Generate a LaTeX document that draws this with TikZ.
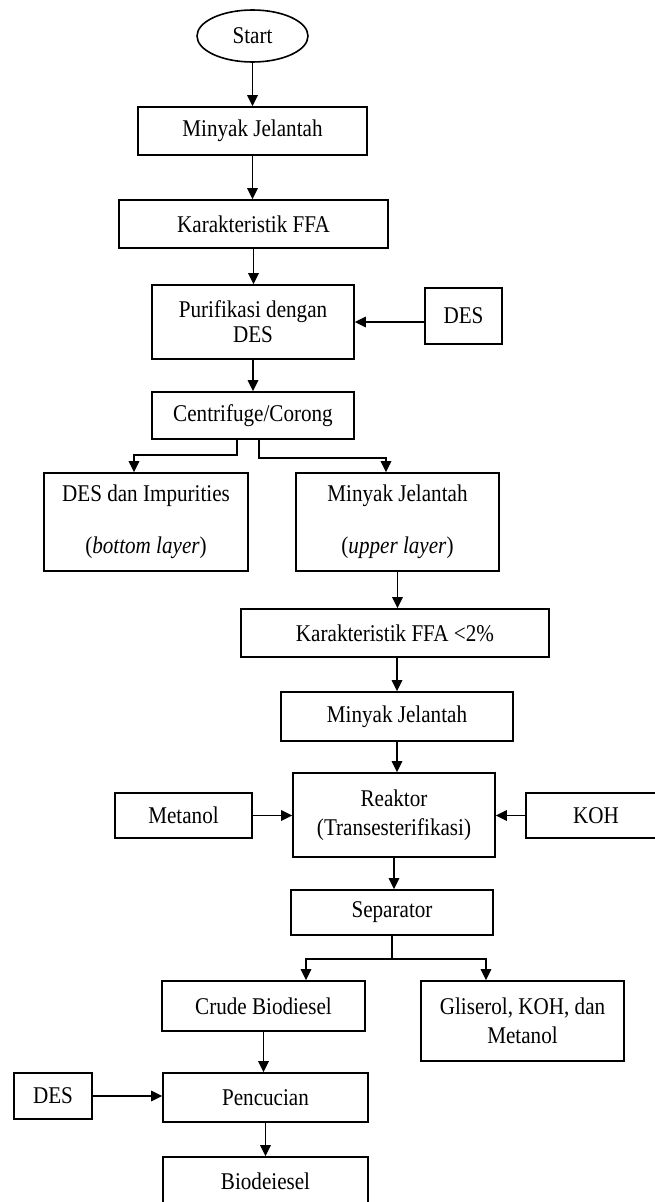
\documentclass[tikz,border=0pt]{standalone}
\usepackage{fontspec}
\setmainfont{Liberation Serif}[FakeStretch=0.88]
\usetikzlibrary{arrows.meta,shapes.geometric}

\begin{document}
\begin{tikzpicture}[x=1pt,y=-1pt,
  box/.style={draw,line width=1.6pt,inner sep=0pt,align=center,font=\fontsize{24}{28}\selectfont},
  arr/.style={line width=1.6pt,-{Triangle[length=11pt,width=10.5pt]}},
  lin/.style={line width=1.6pt}]
  \useasboundingbox (0,0) rectangle (654,1202);
  \node[box,ellipse,minimum width=111,minimum height=52] (start) at (252.5,36) {Start};
  \node[box,minimum width=229,minimum height=48] (mj1) at (252.5,131) {Minyak Jelantah};
  \node[box,minimum width=269,minimum height=48] (ffa) at (253.5,224) {Karakteristik FFA};
  \node[box,minimum width=202,minimum height=74] (puri) at (253,322) {Purifikasi dengan\\[-3pt]DES};
  \node[box,minimum width=77,minimum height=56] (des1) at (463.5,316) {DES};
  \node[box,minimum width=202,minimum height=47] (cent) at (253,415.5) {Centrifuge/Corong};
  \node[box,minimum width=204,minimum height=98] (desimp) at (146,522) {DES dan Impurities\\[24pt](\textit{bottom layer})};
  \node[box,minimum width=203,minimum height=98] (mjup) at (397.5,522) {Minyak Jelantah\\[24pt](\textit{upper layer})};
  \node[box,minimum width=308,minimum height=48] (ffa2) at (395,633) {Karakteristik FFA <2\%};
  \node[box,minimum width=232,minimum height=49] (mj3) at (397,716.5) {Minyak Jelantah};
  \node[box,minimum width=202,minimum height=84] (reak) at (394,815) {Reaktor\\[1pt](Transesterifikasi)};
  \node[box,minimum width=137,minimum height=45] (metanol) at (183.5,815.5) {Metanol};
  \node[box,minimum width=140,minimum height=45] (koh) at (596,815.5) {KOH};
  \node[box,minimum width=202,minimum height=45] (sep) at (392,912.5) {Separator};
  \node[box,minimum width=203,minimum height=50] (crude) at (263.5,1006) {Crude Biodiesel};
  \node[box,minimum width=203,minimum height=80] (glis) at (522.5,1021) {Gliserol, KOH, dan\\[1pt]Metanol};
  \node[box,minimum width=205,minimum height=49] (pencuc) at (265.5,1097.5) {Pencucian};
  \node[box,minimum width=78,minimum height=46] (des2) at (53,1096) {DES};
  \node[box,minimum width=205,minimum height=48] (bio) at (265.5,1181) {Biodeiesel};
  \draw[arr] (start.south) -- (start.south |- mj1.north);
  \draw[arr] (mj1.south) -- (mj1.south |- ffa.north);
  \draw[arr] (ffa.south) -- (ffa.south |- puri.north);
  \draw[arr] (des1.west |- puri.east) -- (puri.east);
  \draw[arr] (puri.south) -- (puri.south |- cent.north);
  \draw[arr] ([xshift=-16pt]cent.south) -- ++(0,15) -| ([xshift=-12pt]desimp.north);
  \draw[arr] ([xshift=6pt]cent.south) -- ++(0,18) -| ([xshift=-11.5pt]mjup.north);
  \draw[arr] (mjup.south) -- (mjup.south |- ffa2.north);
  \draw[arr] (mj3.north |- ffa2.south) -- (mj3.north);
  \draw[arr] (mj3.south) -- (mj3.south |- reak.north);
  \draw[arr] (metanol.east) -- (metanol.east -| reak.west);
  \draw[arr] (koh.west) -- (koh.west -| reak.east);
  \draw[arr] (reak.south) -- (reak.south |- sep.north);
  \draw[lin] (sep.south) -- ++(0,23) coordinate (split);
  \draw[arr] (split) -| ([xshift=42.5pt]crude.north);
  \draw[arr] (split) -| ([xshift=-36.5pt]glis.north);
  \draw[arr] (crude.south) -- (crude.south |- pencuc.north);
  \draw[arr] (des2.east) -- (des2.east -| pencuc.west);
  \draw[arr] (pencuc.south) -- (pencuc.south |- bio.north);
\end{tikzpicture}
\end{document}
